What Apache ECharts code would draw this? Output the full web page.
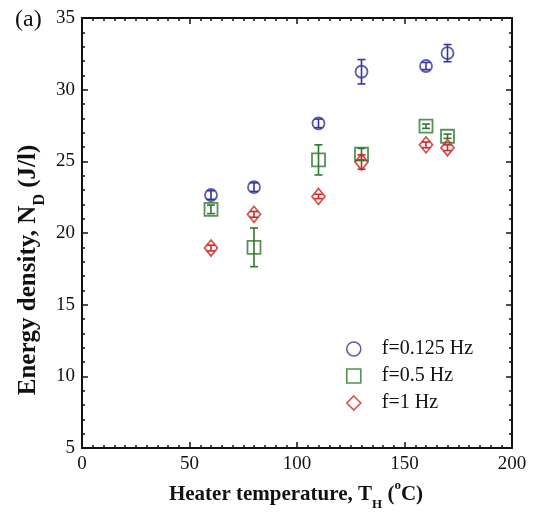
<!DOCTYPE html>
<html>
<head>
<meta charset="utf-8">
<script src="https://cdn.jsdelivr.net/npm/echarts@6/dist/echarts.min.js"></script>
<style>
  html, body { margin: 0; padding: 0; background: #fff; }
  #chart { width: 533px; height: 515px; }
</style>
</head>
<body>
<div id="chart"></div>
<script>
// Heater temperature (°C)
const temps = [60, 80, 110, 130, 160, 170];

// Energy density N_D (J/l) and error half-widths for each frequency
const nd0125 = [22.65, 23.2, 27.65, 31.25, 31.65, 32.55];
const err0125 = [0.3, 0.3, 0.3, 0.85, 0.25, 0.6];
const nd05 = [21.65, 19.0, 25.1, 25.5, 27.45, 26.75];
const err05 = [0.3, 1.35, 1.05, 0.4, 0.15, 0.15];
const nd1 = [18.95, 21.3, 22.55, 24.95, 26.15, 25.95];
const err1 = [0.2, 0.2, 0.15, 0.5, 0.2, 0.2];

const seriesNames = ['f=0.125 Hz', 'f=0.5 Hz', 'f=1 Hz'];
const colors = ['#34349c', '#2c772c', '#cc2828'];

const xTicks = { min: 0, max: 200, interval: 50 };
const yTicks = { min: 5, max: 35, interval: 5 };

const serif = 'Liberation Serif, Times New Roman, serif';
const ink = '#111';

function pairs(xs, ys) { return xs.map((x, i) => [x, ys[i]]); }
function errRows(xs, ys, es) { return xs.map((x, i) => [x, ys[i], es[i]]); }

function errorBarSeries(name, rows, color) {
  return {
    name: name + ' error',
    type: 'custom',
    xAxisIndex: 0,
    yAxisIndex: 0,
    data: rows,
    z: 3,
    renderItem: function (params, api) {
      const x = api.value(0), y = api.value(1), e = api.value(2);
      const lo = api.coord([x, y - e]);
      const hi = api.coord([x, y + e]);
      const cap = 4;
      const style = { stroke: color, lineWidth: 1.6 };
      return {
        type: 'group',
        children: [
          { type: 'line', shape: { x1: lo[0], y1: lo[1], x2: hi[0], y2: hi[1] }, style: style },
          { type: 'line', shape: { x1: lo[0] - cap, y1: lo[1], x2: lo[0] + cap, y2: lo[1] }, style: style },
          { type: 'line', shape: { x1: hi[0] - cap, y1: hi[1], x2: hi[0] + cap, y2: hi[1] }, style: style }
        ]
      };
    }
  };
}

function markerSeries(name, data, color, symbol, size) {
  return {
    name: name,
    type: 'scatter',
    xAxisIndex: 0,
    yAxisIndex: 0,
    data: data,
    symbol: symbol,
    symbolSize: size,
    z: 4,
    itemStyle: { color: 'rgba(0,0,0,0)', borderColor: color, borderWidth: 1.8 },
    emphasis: { disabled: true }
  };
}

const axisLineStyle = { color: ink, width: 2 };

function xAxisDef(position, showLabels) {
  return {
    type: 'value',
    position: position,
    min: xTicks.min, max: xTicks.max, interval: xTicks.interval,
    axisLine: { show: true, onZero: false, lineStyle: axisLineStyle },
    axisTick: { show: true, inside: true, length: 6, lineStyle: { color: ink, width: 1.5 } },
    minorTick: { show: true, splitNumber: 10, length: 3, lineStyle: { color: ink, width: 1.5 } },
    splitLine: { show: false },
    axisLabel: { show: showLabels, margin: 7, color: ink, fontFamily: serif, fontSize: 19 }
  };
}

function yAxisDef(position, showLabels) {
  return {
    type: 'value',
    position: position,
    min: yTicks.min, max: yTicks.max, interval: yTicks.interval,
    axisLine: { show: true, onZero: false, lineStyle: axisLineStyle },
    axisTick: { show: true, inside: true, length: 6, lineStyle: { color: ink, width: 1.5 } },
    minorTick: { show: true, splitNumber: 5, length: 3, lineStyle: { color: ink, width: 1.5 } },
    splitLine: { show: false },
    axisLabel: { show: showLabels, margin: 7, color: ink, fontFamily: serif, fontSize: 19 }
  };
}

function titleRich(size) {
  const small = Math.round(size * 0.62);
  const lh = Math.round(size * 1.5);
  return {
    b: { fontFamily: serif, fontSize: size, fontWeight: 'bold', fill: ink, lineHeight: lh, verticalAlign: 'middle' },
    sub: { fontFamily: serif, fontSize: small, fontWeight: 'bold', fill: ink, lineHeight: lh, verticalAlign: 'bottom' },
    sup: { fontFamily: serif, fontSize: small, fontWeight: 'bold', fill: ink, lineHeight: lh, verticalAlign: 'top' }
  };
}

const chart = echarts.init(document.getElementById('chart'), null, { renderer: 'canvas' });

chart.setOption({
  animation: false,
  backgroundColor: '#fff',
  grid: { left: 82, right: 21, top: 18, bottom: 67, containLabel: false },
  legend: {
    orient: 'vertical',
    left: 341, top: 334,
    itemWidth: 14, itemHeight: 14,
    itemGap: 7,
    data: seriesNames.map((n, i) => ({
      name: n,
      icon: ['circle', 'rect', 'diamond'][i],
      itemStyle: { color: 'rgba(0,0,0,0)', borderColor: colors[i], borderWidth: 1.6 }
    })),
    textStyle: { fontFamily: serif, fontSize: 20, lineHeight: 20, color: ink, padding: [0, 0, 0, 16] },
    selectedMode: false
  },
  graphic: [
    {
      type: 'text', left: 15, top: 8,
      style: { text: '(a)', font: '24px ' + serif, fill: ink }
    },
    {
      type: 'text', x: 296, y: 495,
      style: {
        text: '{b|Heater temperature, T}{sub|H}{b| (}{sup|o}{b|C)}',
        rich: titleRich(21), align: 'center', verticalAlign: 'middle'
      }
    },
    {
      type: 'text', x: 29, y: 270, rotation: Math.PI / 2,
      style: {
        text: '{b|Energy density, N}{sub|D}{b| (J/l)}',
        rich: titleRich(25), align: 'center', verticalAlign: 'middle'
      }
    }
  ],
  xAxis: [xAxisDef('bottom', true), xAxisDef('top', false)],
  yAxis: [yAxisDef('left', true), yAxisDef('right', false)],
  series: [
    errorBarSeries(seriesNames[0], errRows(temps, nd0125, err0125), colors[0]),
    errorBarSeries(seriesNames[1], errRows(temps, nd05, err05), colors[1]),
    errorBarSeries(seriesNames[2], errRows(temps, nd1, err1), colors[2]),
    markerSeries(seriesNames[0], pairs(temps, nd0125), colors[0], 'circle', 12),
    markerSeries(seriesNames[1], pairs(temps, nd05), colors[1], 'rect', 13),
    markerSeries(seriesNames[2], pairs(temps, nd1), colors[2], 'diamond', [13, 16])
  ]
});
</script>
</body>
</html>
